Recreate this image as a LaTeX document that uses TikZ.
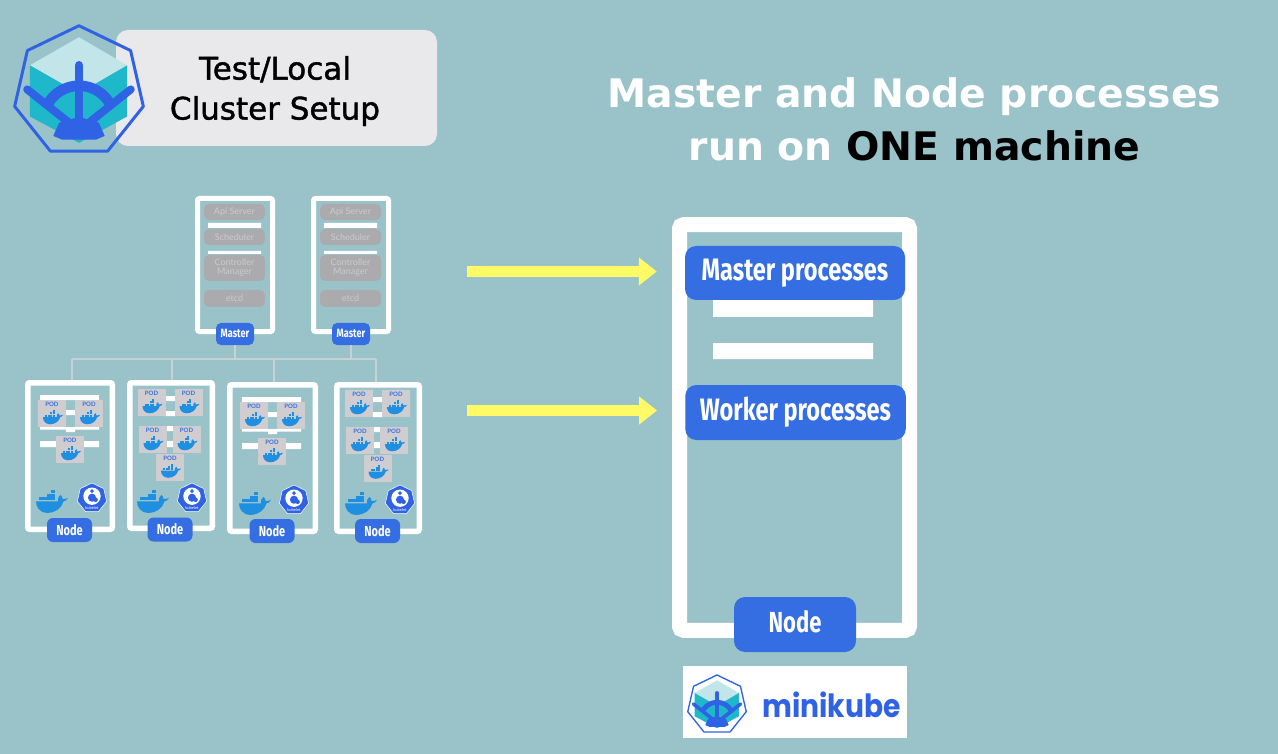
\documentclass[tikz,border=0pt]{standalone}
\usepackage{fontspec}
\usetikzlibrary{arrows.meta}
\setmainfont{DejaVu Sans}
\newfontfamily\setupfont[FakeBold=1.4]{DejaVu Sans}
\newfontfamily\dinfont[FakeStretch=0.76]{Fira Sans}
\newfontfamily\labfont{Lato}
\newfontfamily\logofont[FakeStretch=0.88]{Poppins}
\definecolor{bgc}{HTML}{9AC3C9}
\definecolor{kblue}{HTML}{356DE2}
\definecolor{hblue}{HTML}{2F62E5}
\definecolor{cubel}{HTML}{C2E5EA}
\definecolor{cubet}{HTML}{1FB8CB}
\definecolor{dockc}{HTML}{1E8FE1}
\definecolor{pillc}{HTML}{ABABAD}
\definecolor{pilltxt}{HTML}{CBCBCD}
\definecolor{podc}{HTML}{CFCDD0}
\definecolor{arrowc}{HTML}{FFFA66}
\definecolor{busc}{HTML}{C6D2D5}
\definecolor{labelc}{HTML}{E9E8EB}
\tikzset{
  box/.style={draw=white,rounded corners=2pt,fill=none,inner sep=0pt},
  pill/.style={fill=pillc,text=pilltxt,rounded corners=5pt,inner sep=0pt,minimum width=61pt,align=center,font=\labfont\fontsize{9}{10}\selectfont},
  tag/.style={fill=kblue,text=white,inner sep=0pt,font=\dinfont\bfseries},
  podbox/.style={fill=podc,inner sep=0pt,minimum width=28pt,minimum height=27pt},
  podtxt/.style={text=kblue,inner sep=0pt,font=\labfont\bfseries\fontsize{6}{6}\selectfont},
  bus/.style={draw=busc,line width=2.5pt},
  yarrow/.style={draw=arrowc,line width=11pt,-{Triangle[length=18pt,width=27pt]}},
}
\newcommand{\helmlogo}[3]{%
  \begin{scope}[shift={(#1,#2)},x=#3pt,y=#3pt]
    \fill[cubel] (0,.825) -- (.73,.4) -- (0,-.025) -- (-.745,.4) -- cycle;
    \fill[cubet] (-.745,.4) -- (0,-.025) -- (.73,.4) -- (.73,-.375) -- (0,-.775) -- (-.745,-.375) -- cycle;
    \draw[hblue,line width=#3*0.16pt] (0,-.45) ++(155:.54) arc (155:25:.54);
    \draw[hblue,line width=#3*0.13pt,line cap=round] (0,.4) -- (0,-.45);
    \draw[hblue,line width=#3*0.12pt,line cap=round] (-.785,.035) -- (0,-.59);
    \draw[hblue,line width=#3*0.12pt,line cap=round] (.785,.035) -- (0,-.59);
    \fill[hblue] (0,-.38) -- (-.3,-.47) -- (-.39,-.67) -- (-.26,-.725) -- (.26,-.725) -- (.39,-.67) -- (.3,-.47) -- cycle;
    \draw[hblue,line width=#3*0.045pt,line join=round]
      (90:1) -- (141.43:1) -- (192.86:1) -- (244.29:1) -- (295.71:1) -- (347.14:1) -- (38.57:1) -- cycle;
  \end{scope}}
\newcommand{\whale}[3]{%
  \begin{scope}[shift={(#1,#2)},x=#3pt,y=#3pt]
    \fill[dockc] (-.5,.02) -- (.19,.02) .. controls (.17,.12) and (.22,.2) .. (.27,.22)
      .. controls (.31,.18) and (.33,.14) .. (.33,.1) .. controls (.39,.09) and (.46,.1) .. (.5,.13)
      .. controls (.46,.04) and (.4,.03) .. (.36,.02) .. controls (.3,-.2) and (.1,-.34) .. (-.15,-.34)
      .. controls (-.4,-.33) and (-.5,-.15) .. cycle;
    \foreach \cx/\cy in {-.4/.05,-.275/.05,-.15/.05,-.025/.05,-.15/.16,-.025/.16,-.025/.27}
      \fill[dockc] (\cx,\cy) rectangle +(.112,.1);
  \end{scope}}
\newcommand{\kubelogo}[3]{%
  \begin{scope}[shift={(#1,#2)},x=15pt,y=15pt]
    \filldraw[fill=hblue,draw=white,line width=.5pt,line join=round]
      (90:1) -- (141.43:1) -- (192.86:1) -- (244.29:1) -- (295.71:1) -- (347.14:1) -- (38.57:1) -- cycle;
    \fill[white] (0,.12) circle (.58);
    \fill[hblue] (0,.02) circle (.27);
    \fill[hblue] (0,.46) circle (.13) (.24,-.12) circle (.15);
    \node[text=white,inner sep=0pt,font=\labfont\fontsize{4}{4}\selectfont] (#3) at (0,-.68) {kubelet};
  \end{scope}}
\newcommand{\podat}[3]{%
  \node[podbox] (#1) at (#2,#3) {};
  \node[podtxt] (#1t) at (#2,#3-9) {POD};
  \whale{#2+1}{#3+4}{20}}
\newcommand{\masterbody}[2]{%
  \begin{scope}[shift={(#2,0)}]
    \fill[white] (208,223) rectangle (261,228) (208,251) rectangle (261,254);
    \node[pill,minimum height=16pt] (#1api) at (234.5,212) {Api Server};
    \node[pill,minimum height=16pt] (#1sch) at (234.5,237) {Scheduler};
    \node[pill,minimum height=26pt] (#1ctl) at (234.5,268) {Controller\\[-1pt]Manager};
    \node[pill,minimum height=17pt] (#1etc) at (234.5,298.5) {etcd};
  \end{scope}}
\newcommand{\threepods}[3]{%
  \begin{scope}[shift={(#2,#3)}]
    \fill[white] (40,395) rectangle (99,400) (40,427) rectangle (99,429.5) (40,441) rectangle (99,447)
      (66,410) rectangle (75,415) (66,427) rectangle (75,432);
    \podat{#1p1}{52}{413.5}
    \podat{#1p2}{89}{413.5}
    \podat{#1p3}{70}{449.5}
  \end{scope}}
\newcommand{\fivepods}[3]{%
  \begin{scope}[shift={(#2,#3)}]
    \fill[white] (165,396) rectangle (175,401) (165,411) rectangle (175,416)
      (166,426) rectangle (173,431) (166,441) rectangle (173,447);
    \podat{#1p1}{151.5}{402.5}
    \podat{#1p2}{188.5}{402.5}
    \podat{#1p3}{152.5}{439.5}
    \podat{#1p4}{186.5}{439.5}
    \podat{#1p5}{170}{467}
  \end{scope}}
\begin{document}
\begin{tikzpicture}[x=1pt,y=-1pt]
\useasboundingbox (0,0) rectangle (1278,754);
\fill[bgc] (0,0) rectangle (1278,754);

% top-left label and logo
\node[fill=labelc,rounded corners=12pt,minimum width=321pt,minimum height=116pt,inner sep=0pt] (setupbox) at (276.5,88) {};
\helmlogo{79}{91.7}{66}
\node[text=black,align=center,inner sep=0pt,font=\setupfont\fontsize{31}{40}\selectfont] (setuptxt) at (275,91) {Test/Local\\Cluster Setup};

% title
\node[text=white,align=center,inner sep=0pt,font=\bfseries\fontsize{39.3}{53}\selectfont] (title) at (914.5,119.5) {Master and Node processes\\run on \textcolor{black}{ONE machine}};

% master servers
\node[box,line width=5pt,minimum width=75pt,minimum height=133pt] (mbox1) at (235,265) {};
\node[box,line width=5pt,minimum width=75pt,minimum height=133pt] (mbox2) at (351,265) {};
\masterbody{a}{0}
\masterbody{b}{116}
\node[tag,rounded corners=5pt,minimum width=38pt,minimum height=22pt,font=\dinfont\bfseries\fontsize{12}{12}\selectfont] (m1) at (235,334) {\raisebox{1.5pt}{Master}};
\node[tag,rounded corners=5pt,minimum width=38pt,minimum height=22pt,font=\dinfont\bfseries\fontsize{12}{12}\selectfont] (m2) at (351,334) {\raisebox{1.5pt}{Master}};

% worker boxes
\node[box,line width=5.5pt,minimum width=84.5pt,minimum height=146.5pt] (wa) at (70,456) {};
\node[box,line width=5.5pt,minimum width=82.5pt,minimum height=145.5pt] (wb) at (171,455.5) {};
\node[box,line width=5.5pt,minimum width=85.5pt,minimum height=146.5pt] (wc) at (272.5,458) {};
\node[box,line width=5.5pt,minimum width=82.5pt,minimum height=146.5pt] (wd) at (378,458) {};

% bus
\coordinate (busl) at (72,359);
\coordinate (busr) at (376,359);
\coordinate (tapb) at (172,359);
\coordinate (tapc) at (274,359);
\draw[bus] (busl) -- (busr);
\draw[bus] (m1.south) -- (m1.south |- busl);
\draw[bus] (m2.south) -- (m2.south |- busl);
\draw[bus] (busl) -- (busl |- wa.north);
\draw[bus] (tapb) -- (tapb |- wb.north);
\draw[bus] (tapc) -- (tapc |- wc.north);
\draw[bus] (busr) -- (busr |- wd.north);

% pods
\threepods{wap}{0}{0}
\fivepods{wbp}{0}{0}
\threepods{wcp}{202}{2}
\fivepods{wdp}{207.5}{1}

% whales and kubelets
\whale{52}{502}{32}
\kubelogo{92}{498}{ka}
\whale{153}{502}{32}
\kubelogo{192}{498}{kb}
\whale{255}{504}{32}
\kubelogo{294}{500}{kc}
\whale{361}{504}{32}
\kubelogo{400}{500}{kd}

% node tags
\foreach \nm/\px/\py in {na/69.5/530,nb/170/529.5,nc/272/531,nd/377.5/531}
  \node[tag,rounded corners=6pt,minimum width=45pt,minimum height=24pt,font=\dinfont\bfseries\fontsize{14.5}{15}\selectfont] (\nm) at (\px,\py) {\raisebox{1pt}{Node}};

% big machine
\node[box,draw=white,line width=15pt,rounded corners=4pt,minimum width=230pt,minimum height=405.5pt] (bigbox) at (794.5,427.5) {};
\fill[white] (713,300) rectangle (873,317) (713,343) rectangle (873,359);
\node[tag,rounded corners=11pt,minimum width=220pt,minimum height=54pt,font=\dinfont\bfseries\fontsize{31}{31}\selectfont] (mproc) at (795,273) {\raisebox{1pt}{Master processes}};
\node[tag,rounded corners=11pt,minimum width=220.5pt,minimum height=55pt,font=\dinfont\bfseries\fontsize{31}{31}\selectfont] (wproc) at (795.5,412.5) {\raisebox{1pt}{Worker processes}};
\node[tag,rounded corners=11pt,minimum width=122pt,minimum height=55pt,font=\dinfont\bfseries\fontsize{29}{29}\selectfont] (bnode) at (795,624.5) {\raisebox{6pt}{Node}};

% arrows
\coordinate (a1s) at (467,271.5);
\coordinate (a2s) at (467,410.5);
\draw[yarrow,shorten >=28pt] (a1s) -- (a1s -| mproc.west);
\draw[yarrow,shorten >=28pt] (a2s) -- (a2s -| wproc.west);

% minikube
\node[fill=white,minimum width=224pt,minimum height=72pt,inner sep=0pt] (mkbox) at (795,702) {};
\helmlogo{717}{705}{30}
\node[text=hblue,inner sep=0pt,anchor=base west,font=\logofont\bfseries\fontsize{32}{32}\selectfont] (mktxt) at (762,717) {minikube};
\end{tikzpicture}
\end{document}
